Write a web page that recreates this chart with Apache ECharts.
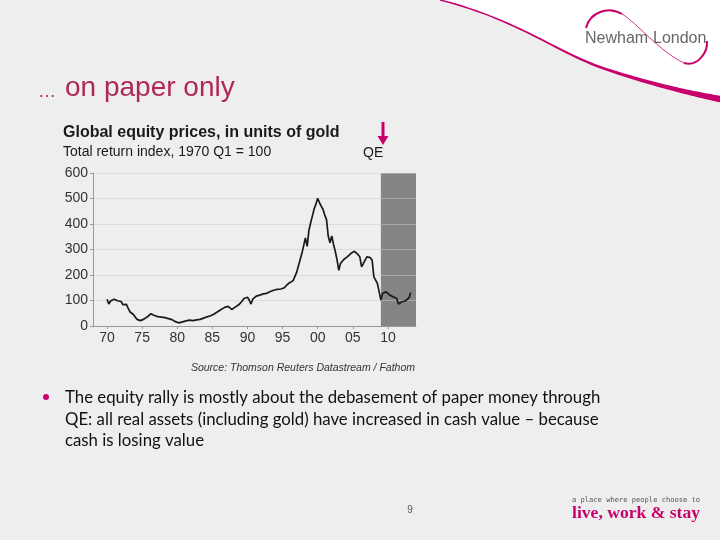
<!DOCTYPE html>
<html>
<head>
<meta charset="utf-8">
<script src="https://cdn.jsdelivr.net/npm/echarts@6/dist/echarts.min.js"></script>
<style>
html,body{margin:0;padding:0;background:#eeeeee;}
#chart{width:720px;height:540px;}
</style>
</head>
<body>
<div id="chart"></div>
<script>
// Quarterly values, 1970 Q1 onward (Total return index, 1970 Q1 = 100)
const startYear = 1970;
const equityInGold = [
  105, 86, 98, 100,
  105, 103, 99, 101,
  96, 84, 90, 85,
  70, 56, 58, 45,
  38, 26, 22, 21,
  24, 27, 31, 36,
  40, 48, 44, 41,
  40, 37, 38, 35,
  34, 33, 31, 29,
  27, 25, 21, 17,
  13, 12, 14, 16,
  18, 20, 21, 23,
  24, 21, 22, 24,
  27, 26, 29, 31,
  33, 36, 38, 40,
  43, 47, 52, 56,
  60, 65, 69, 73,
  75, 77, 76, 65,
  70, 74, 79, 83,
  90, 98, 108, 115,
  113, 102, 86, 105,
  111, 117, 118, 121,
  124, 126, 125, 128,
  131, 135, 138, 140,
  142, 144, 143, 145,
  146, 150, 158, 163,
  170, 174, 178, 185,
  210, 235, 260, 285,
  315, 345, 312, 375,
  405, 432, 460, 478,
  501, 484, 470, 458,
  435, 418, 353, 326,
  353, 320, 293, 260,
  218, 245, 254, 262,
  267, 272, 278, 285,
  282, 293, 300, 280,
  271, 232, 245, 258,
  271, 278, 268, 258,
  193, 187, 167, 135,
  102, 128, 132, 134,
  128, 121, 117, 115,
  112, 108, 86, 92,
  95, 98, 99, 102,
  110, 131
];
const xTickYears = [1970, 1975, 1980, 1985, 1990, 1995, 2000, 2005, 2010];
const xTickLabels = ['70', '75', '80', '85', '90', '95', '00', '05', '10'];
const qeRange = [2009.0, 2014.0];
const xRange = [1968, 2014];

const chartTitle = 'Global equity prices, in units of gold';
const chartSubtitle = 'Total return index, 1970 Q1 = 100';
const sourceText = 'Source: Thomson Reuters Datastream / Fathom';
const slideTitle = 'on paper only';
const bulletLines = [
  'The equity rally is mostly about the debasement of paper money through',
  'QE: all real assets (including gold) have increased in cash value \u2013 because',
  'cash is losing value'
];

const seriesData = equityInGold.map((v, i) => [startYear + i / 4, v]);
const magenta = '#c8006e';

// decorative curve helper (slide background only)
function bez(p0, p1, p2, p3, n) {
  const pts = [];
  for (let i = 0; i <= n; i++) {
    const t = i / n, u = 1 - t;
    pts.push([
      u*u*u*p0[0] + 3*u*u*t*p1[0] + 3*u*t*t*p2[0] + t*t*t*p3[0],
      u*u*u*p0[1] + 3*u*u*t*p1[1] + 3*u*t*t*p2[1] + t*t*t*p3[1]
    ]);
  }
  return pts;
}
const swoosh = bez([440, 0], [520, 20], [560, 55], [610, 70], 30)
  .concat(bez([610, 70], [650, 83], [690, 92], [720, 97], 30).slice(1));
const whiteCorner = swoosh.concat([[720, 0]]);
const swooshBand = swoosh.map((p, i) => {
  const t = i / (swoosh.length - 1);
  return [p[0], p[1] - 0.8 - 0.5 * t];
}).concat(swoosh.map((p, i) => {
  const t = i / (swoosh.length - 1);
  return [p[0], p[1] + 0.8 + 4.5 * t * t];
}).reverse());

const chart = echarts.init(document.getElementById('chart'), null, {renderer: 'canvas'});
const option = {
  backgroundColor: '#eeeeee',
  animation: false,
  grid: {left: 93, right: 304, top: 173, bottom: 214, containLabel: false},
  xAxis: {
    type: 'value', min: xRange[0], max: xRange[1],
    axisLine: {show: true, lineStyle: {color: '#9a9a9a', width: 1}},
    axisTick: {show: true, customValues: xTickYears, length: 3, lineStyle: {color: '#9a9a9a'}},
    axisLabel: {
      customValues: xTickYears,
      formatter: v => xTickLabels[xTickYears.indexOf(Math.round(v))] || '',
      color: '#333', fontSize: 14, fontFamily: 'Liberation Sans', margin: 5
    },
    splitLine: {show: false}
  },
  yAxis: {
    type: 'value', min: 0, max: 600, interval: 100,
    axisLine: {show: true, lineStyle: {color: '#9a9a9a', width: 1}},
    axisTick: {show: true, length: 3, lineStyle: {color: '#9a9a9a'}},
    axisLabel: {color: '#333', fontSize: 14, fontFamily: 'Liberation Sans', margin: 5},
    splitLine: {show: true, lineStyle: {color: 'rgba(200,200,200,0.5)', width: 1}}
  },
  series: [
    {
      type: 'line', data: [], z: -1, silent: true,
      markArea: {
        silent: true, z: -1,
        itemStyle: {color: '#858585'},
        data: [[{xAxis: qeRange[0]}, {xAxis: qeRange[1]}]]
      }
    },
    {
      type: 'line', data: seriesData, showSymbol: false, z: 3,
      lineStyle: {color: '#1a1a1a', width: 1.7}
    }
  ],
  graphic: [
    {type: 'polygon', z: -10, shape: {points: whiteCorner}, style: {fill: '#ffffff'}},
    {type: 'polygon', z: 5, shape: {points: swooshBand}, style: {fill: magenta}},
    // Newham London logo
    {type: 'bezierCurve', z: 5, shape: {x1: 586, y1: 28, cpx1: 590, cpy1: 12, cpx2: 608, cpy2: 6, x2: 622, y2: 14}, style: {stroke: magenta, lineWidth: 2, fill: null}},
    {type: 'bezierCurve', z: 5, shape: {x1: 622, y1: 14, cpx1: 636, cpy1: 22, cpx2: 660, cpy2: 52, x2: 684, y2: 63}, style: {stroke: magenta, lineWidth: 0.8, fill: null}},
    {type: 'bezierCurve', z: 5, shape: {x1: 684, y1: 63, cpx1: 698, cpy1: 67, cpx2: 708, cpy2: 52, x2: 707, y2: 41}, style: {stroke: magenta, lineWidth: 2, fill: null}},
    {type: 'text', z: 6, style: {text: 'Newham', x: 585, y: 39, fill: '#666', font: '16px "Liberation Sans"', textBaseline: 'middle', textVerticalAlign: 'middle'}},
    {type: 'text', z: 6, style: {text: 'London', x: 653, y: 39, fill: '#666', font: '16px "Liberation Sans"', textBaseline: 'middle', textVerticalAlign: 'middle'}},
    // slide title
    {type: 'text', style: {text: '\u2026', x: 38, y: 92, fill: '#b0285a', font: '18px "Liberation Sans"', textBaseline: 'middle', textVerticalAlign: 'middle'}},
    {type: 'text', style: {text: slideTitle, x: 65, y: 88, fill: '#b0285a', font: '28px "Liberation Sans"', textBaseline: 'middle', textVerticalAlign: 'middle'}},
    // chart titles
    {type: 'text', style: {text: chartTitle, x: 63, y: 133, fill: '#1a1a1a', font: 'bold 16px "Liberation Sans"', textBaseline: 'middle', textVerticalAlign: 'middle'}},
    {type: 'text', style: {text: chartSubtitle, x: 63, y: 152, fill: '#1a1a1a', font: '14px "Liberation Sans"', textBaseline: 'middle', textVerticalAlign: 'middle'}},
    // QE annotation
    {type: 'text', style: {text: 'QE', x: 363, y: 153, fill: '#1a1a1a', font: '14px "Liberation Sans"', textBaseline: 'middle', textVerticalAlign: 'middle'}},
    {type: 'rect', shape: {x: 381.5, y: 122, width: 3, height: 16}, style: {fill: magenta}},
    {type: 'polygon', shape: {points: [[377.5, 136], [388.5, 136], [383, 145]]}, style: {fill: magenta}},
    // source
    {type: 'text', style: {text: sourceText, x: 415, y: 368, fill: '#333', font: 'italic 10.5px "Liberation Sans"', textAlign: 'right', textBaseline: 'middle', textVerticalAlign: 'middle'}},
    // bullet
    {type: 'circle', shape: {cx: 46, cy: 397, r: 3}, style: {fill: magenta}},
    {type: 'text', style: {text: bulletLines[0], x: 65, y: 398, fill: '#111', font: '16.8px Lato', textBaseline: 'middle', textVerticalAlign: 'middle'}},
    {type: 'text', style: {text: bulletLines[1], x: 65, y: 420, fill: '#111', font: '16.8px Lato', textBaseline: 'middle', textVerticalAlign: 'middle'}},
    {type: 'text', style: {text: bulletLines[2], x: 65, y: 441, fill: '#111', font: '16.8px Lato', textBaseline: 'middle', textVerticalAlign: 'middle'}},
    // footer
    {type: 'text', style: {text: '9', x: 410, y: 510, fill: '#555', font: '10px "Liberation Sans"', textAlign: 'center', textBaseline: 'middle', textVerticalAlign: 'middle'}},
    {type: 'text', style: {text: 'a place where people choose to', x: 572, y: 500, fill: '#555', font: '7.1px "DejaVu Sans Mono"', textBaseline: 'middle', textVerticalAlign: 'middle'}},
    {type: 'text', style: {text: 'live, work & stay', x: 572, y: 513, fill: magenta, font: 'bold 17.6px "Liberation Serif"', textBaseline: 'middle', textVerticalAlign: 'middle'}}
  ]
};
chart.setOption(option);
</script>
</body>
</html>
